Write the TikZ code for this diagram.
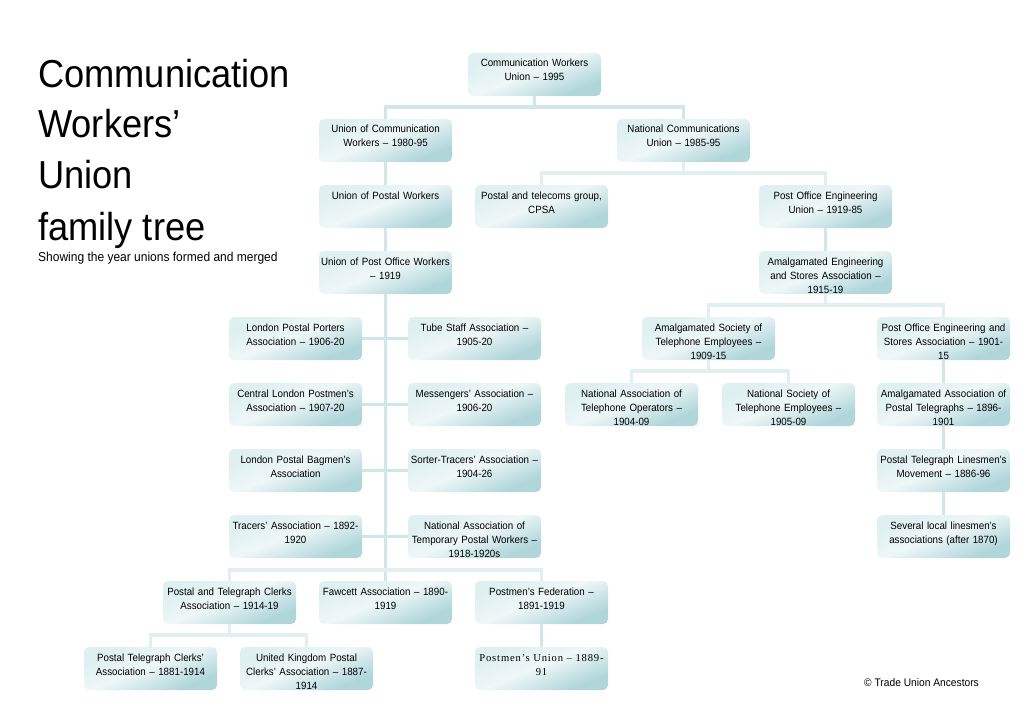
\documentclass[tikz,border=0pt]{standalone}
\usepackage{fontspec}
\setmainfont[FakeStretch=0.93]{Liberation Sans}
\newfontfamily\oddfont[LetterSpace=8]{Liberation Serif}
\definecolor{unionlight}{HTML}{DFF0F1}
\definecolor{unionmid}{HTML}{EFF7F8}
\definecolor{uniondark}{HTML}{B0D6DA}
\definecolor{linkteal}{HTML}{D0E7E9}
\definecolor{linkpale}{HTML}{E0F0F1}
\pgfdeclareverticalshading{unionfade}{100bp}{color(0bp)=(uniondark); color(28bp)=(uniondark);
  color(52bp)=(unionmid); color(72bp)=(unionlight); color(100bp)=(unionlight)}
\begin{document}
\begin{tikzpicture}[
		x=1pt, y=-1pt,
		union/.style={rectangle, rounded corners=5pt, minimum width=133pt, text width=133pt, inner sep=0pt,
			text height=14pt, text depth=29pt, align=center, font=\fontsize{10.5}{14}\selectfont,
			shading=unionfade, shading angle=22},
		link/.style={draw=linkteal, line width=3.5pt},
		palelink/.style={draw=linkpale, line width=3.5pt},
		heading/.style={anchor=base west, inner sep=0pt, font=\fontsize{39}{40}\selectfont}
	]
  \useasboundingbox (0,0) rectangle (1024,722);

  % title block
  \node (t_1) [heading] at (38, 88) {Communication};
  \node (t_2) [heading] at (38, 138) {Workers’};
  \node (t_3) [heading] at (38, 188) {Union};
  \node (t_4) [heading] at (38, 240) {family tree};
  \node (t_sub) [heading, font=\fontsize{12.9}{14}\selectfont] at (38, 261) {Showing the year unions formed and merged};
  \node (t_copy) [heading, font=\fontsize{11}{14}\selectfont] at (864, 686) {© Trade Union Ancestors};

  % left side
  \node (cwu) [union] at (534.5, 74.5) {Communication Workers\\Union – 1995};
  \node (ucw) [union] at (385.5, 140.5) {Union of Communication\\Workers – 1980-95};
  \node (ncu) [union] at (683.5, 140.5) {National Communications\\Union – 1985-95};
  \node (upw) [union] at (385.5, 206.5) {Union of Postal Workers};
  \node (upow) [union] at (385.5, 272.5) {Union of Post Office Workers\\– 1919};
  \node (lppa) [union] at (295.5, 338.5) {London Postal Porters\\Association – 1906-20};
  \node (tsa) [union] at (474.5, 338.5) {Tube Staff Association –\\1905-20};
  \node (clpa) [union] at (295.5, 404.5) {Central London Postmen’s\\Association – 1907-20};
  \node (msa) [union] at (474.5, 404.5) {Messengers’ Association –\\1906-20};
  \node (lpba) [union] at (295.5, 470.5) {London Postal Bagmen’s\\Association};
  \node (sta) [union] at (474.5, 470.5) {Sorter-Tracers’ Association –\\1904-26};
  \node (tra) [union] at (295.5, 536.5) {Tracers’ Association – 1892-\\1920};
  \node (natp) [union] at (474.5, 536.5) {National Association of\\Temporary Postal Workers –\\1918-1920s};
  \node (ptca) [union] at (229.5, 602.5) {Postal and Telegraph Clerks\\Association – 1914-19};
  \node (faw) [union] at (385.5, 602.5) {Fawcett Association – 1890-\\1919};
  \node (pfed) [union] at (541.5, 602.5) {Postmen’s Federation –\\1891-1919};
  \node (ptel) [union] at (150.5, 668.5) {Postal Telegraph Clerks’\\Association – 1881-1914};
  \node (ukpc) [union] at (306.5, 668.5) {United Kingdom Postal\\Clerks’ Association – 1887-\\1914};
  \node (pun) [union, font=\fontsize{10.6}{14}\oddfont] at (541.5, 668.5) {Postmen’s Union – 1889-\\91};

  % right side
  \node (cpsa) [union] at (541.5, 206.5) {Postal and telecoms group,\\CPSA};
  \node (poeu) [union] at (825.5, 206.5) {Post Office Engineering\\Union – 1919-85};
  \node (aesa) [union] at (825.5, 272.5) {Amalgamated Engineering\\and Stores Association –\\1915-19};
  \node (aste) [union] at (708.5, 338.5) {Amalgamated Society of\\Telephone Employees –\\1909-15};
  \node (poes) [union] at (943.5, 338.5) {Post Office Engineering and\\Stores Association – 1901-\\15};
  \node (nato) [union] at (631.5, 404.5) {National Association of\\Telephone Operators –\\1904-09};
  \node (nste) [union] at (788.5, 404.5) {National Society of\\Telephone Employees –\\1905-09};
  \node (aapt) [union] at (943.5, 404.5) {Amalgamated Association of\\Postal Telegraphs – 1896-\\1901};
  \node (ptlm) [union] at (943.5, 470.5) {Postal Telegraph Linesmen’s\\Movement – 1886-96};
  \node (sevl) [union] at (943.5, 536.5) {Several local linesmen’s\\associations (after 1870)};

  \draw [link] (cwu.south) |- (385.5, 107) -- (ucw.north);
  \draw [link] (cwu.south) |- (683.5, 107) -- (ncu.north);
  \draw [link] (ucw) -- (upw);
  \draw [link] (upw) -- (upow);
  \draw [link] (upow) -- (faw);
  \draw [palelink] (ncu.south) |- (541.5, 173) -- (cpsa.north);
  \draw [palelink] (ncu.south) |- (825.5, 173) -- (poeu.north);
  \draw [link] (poeu) -- (aesa);
  \draw [palelink] (aesa.south) |- (708.5, 305) -- (aste.north);
  \draw [palelink] (aesa.south) |- (943.5, 305) -- (poes.north);
  \draw [palelink] (aste.south) |- (631.5, 371) -- (nato.north);
  \draw [palelink] (aste.south) |- (788.5, 371) -- (nste.north);
  \draw [link] (poes) -- (aapt);
  \draw [link] (aapt) -- (ptlm);
  \draw [link] (ptlm) -- (sevl);
  \draw [link] (lppa) -- (tsa);
  \draw [link] (clpa) -- (msa);
  \draw [link] (lpba) -- (sta);
  \draw [link] (tra) -- (natp);
  \draw [palelink] (ptca.north) |- (385.5, 570) -| (pfed.north);
  \draw [palelink] (ptca.south) |- (150.5, 635) -- (ptel.north);
  \draw [palelink] (ptca.south) |- (306.5, 635) -- (ukpc.north);
  \draw [link] (pfed) -- (pun);
\end{tikzpicture}
\end{document}
